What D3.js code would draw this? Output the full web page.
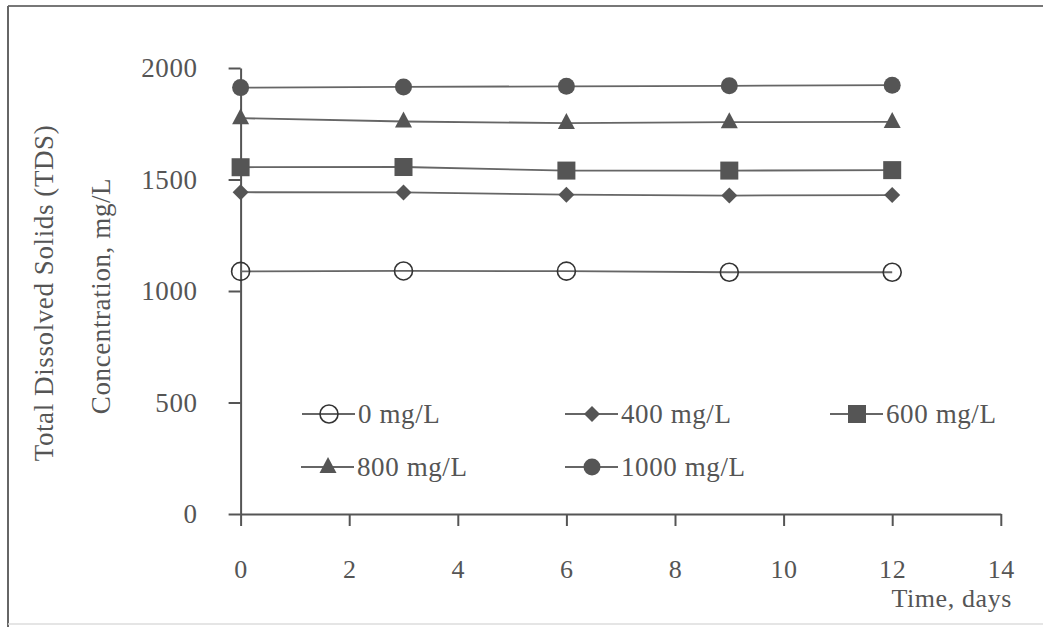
<!DOCTYPE html>
<html>
<head>
<meta charset="utf-8">
<script src="https://cdn.jsdelivr.net/npm/d3@7"></script>
<style>
  html, body { margin: 0; padding: 0; background: #fff; }
  svg { display: block; }
  text { font-family: "Liberation Serif", "Times New Roman", serif; fill: #555; letter-spacing: 0.6px; }
</style>
</head>
<body>
<svg id="chart" width="1043" height="627"></svg>
<script>
// Sampling days
const days = [0, 3, 6, 9, 12];

// TDS concentration (mg/L) for each dosage
const tds0    = [1088, 1090, 1089, 1084, 1084];
const tds400  = [1443, 1442, 1432, 1428, 1430];
const tds600  = [1555, 1556, 1540, 1540, 1542];
const tds800  = [1775, 1760, 1753, 1757, 1758];
const tds1000 = [1912, 1915, 1918, 1920, 1923];

const seriesNames = ["0 mg/L", "400 mg/L", "600 mg/L", "800 mg/L", "1000 mg/L"];
const seriesValues = [tds0, tds400, tds600, tds800, tds1000];
const seriesSymbols = ["openCircle", "diamond", "square", "triangle", "circle"];

const xTicks = [0, 2, 4, 6, 8, 10, 12, 14];
const yTicks = [0, 500, 1000, 1500, 2000];

const svg = d3.select("#chart");
const ink = "#555";
const lineInk = "#666";
const fontSize = 27;

// outer frame of the figure
svg.append("line").attr("x1", 8).attr("x2", 1043).attr("y1", 6).attr("y2", 6)
  .attr("stroke", "#777").attr("stroke-width", 2);
svg.append("line").attr("x1", 8).attr("x2", 8).attr("y1", 6).attr("y2", 627)
  .attr("stroke", "#666").attr("stroke-width", 2);
svg.append("line").attr("x1", 8).attr("x2", 1043).attr("y1", 624).attr("y2", 624)
  .attr("stroke", "#ddd").attr("stroke-width", 1.5);

const x = d3.scaleLinear().domain([0, 14]).range([240.6, 1000.8]);
const y = d3.scaleLinear().domain([0, 2000]).range([514, 68]);

// y axis
const yAxis = svg.append("g")
  .attr("transform", `translate(${x(0)},0)`)
  .call(d3.axisLeft(y).tickValues(yTicks).tickFormat(d3.format("d"))
    .tickSize(12).tickSizeOuter(0).tickPadding(31));
yAxis.select(".domain").attr("stroke", ink).attr("stroke-width", 2);
yAxis.selectAll(".tick line").attr("stroke", ink).attr("stroke-width", 2);
yAxis.selectAll(".tick text").attr("font-size", fontSize)
  .attr("font-family", "Liberation Serif").attr("fill", ink).attr("dy", "0.33em");

// x axis
const xAxis = svg.append("g")
  .attr("transform", `translate(0,${y(0)})`)
  .call(d3.axisBottom(x).tickValues(xTicks).tickFormat(d3.format("d"))
    .tickSize(12).tickSizeOuter(0).tickPadding(52));
xAxis.select(".domain").attr("stroke", ink).attr("stroke-width", 2);
xAxis.selectAll(".tick line").attr("stroke", ink).attr("stroke-width", 2);
xAxis.selectAll(".tick text").attr("font-size", 26)
  .attr("font-family", "Liberation Serif").attr("fill", ink).attr("dy", 0);

// axis titles
svg.append("text").attr("x", 1012).attr("y", 607).attr("text-anchor", "end")
  .attr("font-size", 26).text("Time, days");
svg.append("text").attr("transform", "translate(53,293) rotate(-90)")
  .attr("text-anchor", "middle").attr("font-size", fontSize)
  .text("Total Dissolved Solids (TDS)");
svg.append("text").attr("transform", "translate(110,296) rotate(-90)")
  .attr("text-anchor", "middle").attr("font-size", fontSize)
  .text("Concentration, mg/L");

// marker drawing
function drawMarker(g, kind, cx, cy) {
  if (kind === "openCircle") {
    g.append("circle").attr("cx", cx).attr("cy", cy).attr("r", 9)
      .attr("fill", "none").attr("stroke", "#333").attr("stroke-width", 1.6);
  } else if (kind === "circle") {
    g.append("circle").attr("cx", cx).attr("cy", cy).attr("r", 8.5).attr("fill", ink);
  } else if (kind === "square") {
    g.append("rect").attr("x", cx - 9).attr("y", cy - 9).attr("width", 18).attr("height", 18)
      .attr("fill", ink);
  } else if (kind === "diamond") {
    g.append("path").attr("d", `M${cx},${cy - 8}L${cx + 8},${cy}L${cx},${cy + 8}L${cx - 8},${cy}Z`)
      .attr("fill", ink);
  } else if (kind === "triangle") {
    g.append("path").attr("d", `M${cx},${cy - 10}L${cx + 8.5},${cy + 6}L${cx - 8.5},${cy + 6}Z`)
      .attr("fill", ink);
  }
}

const line = d3.line().x(d => x(d[0])).y(d => y(d[1]));

seriesValues.forEach((vals, i) => {
  const pts = days.map((d, j) => [d, vals[j]]);
  const g = svg.append("g");
  g.append("path").attr("d", line(pts)).attr("fill", "none")
    .attr("stroke", lineInk).attr("stroke-width", 1.8);
  pts.forEach(p => drawMarker(g, seriesSymbols[i], x(p[0]), y(p[1])));
});

// legend
const legendPos = [
  { cx: 329, cy: 414 }, { cx: 592, cy: 414 }, { cx: 857, cy: 414 },
  { cx: 328, cy: 467 }, { cx: 592, cy: 467 }
];
seriesNames.forEach((name, i) => {
  const p = legendPos[i];
  const g = svg.append("g");
  g.append("line").attr("x1", p.cx - 27).attr("x2", p.cx + 26)
    .attr("y1", p.cy).attr("y2", p.cy).attr("stroke", lineInk).attr("stroke-width", 1.8);
  drawMarker(g, seriesSymbols[i], p.cx, p.cy);
  g.append("text").attr("x", p.cx + 29).attr("y", p.cy + 9)
    .attr("font-size", fontSize).text(name);
});
</script>
</body>
</html>
